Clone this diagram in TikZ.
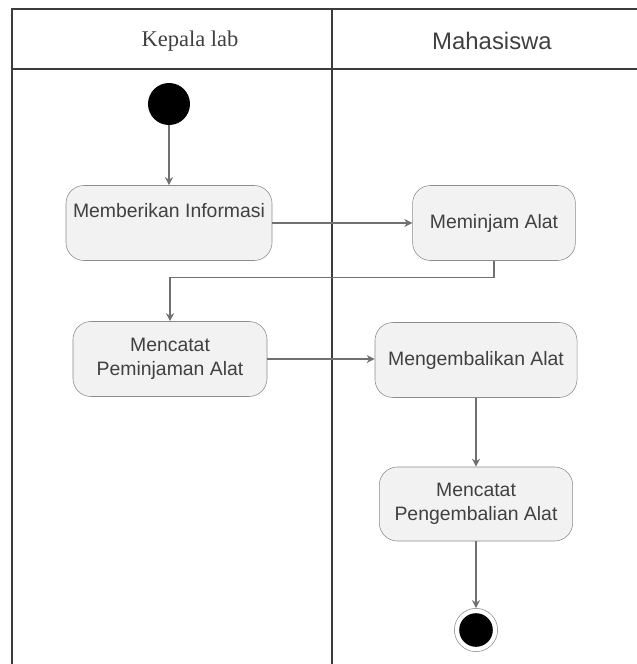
\documentclass[tikz,border=0pt]{standalone}
\usepackage{fontspec}
\setmainfont{Liberation Sans}
\newfontfamily\headserif{Liberation Serif}
\usepackage{tikz}
\usetikzlibrary{arrows.meta}
\usepackage{xcolor}
\definecolor{lanecol}{HTML}{3C3C3C}
\definecolor{flowcol}{HTML}{707070}
\definecolor{boxfill}{HTML}{F2F2F2}
\definecolor{boxline}{HTML}{8C8C8C}
\definecolor{textcol}{HTML}{404040}

\begin{document}
\begin{tikzpicture}[x=0.025cm,y=-0.025cm]
\tikzset{>={Stealth[width=2mm,length=2mm]}}
\tikzstyle{activity} =[rectangle, rounded corners=0.45cm, draw=boxline, fill=boxfill, text=textcol, align=center, font=\fontsize{13.8}{17.5}\selectfont, minimum height=1.875cm, inner sep=2pt]
\tikzstyle{flow} =[->, draw=flowcol, line width=0.8pt]
\tikzstyle{lane} =[draw=lanecol, line width=1pt]

\useasboundingbox (0,0) rectangle (637,664);

% swimlanes
\draw[lane] (637,9) -- (12,9) -- (12,664);
\draw[lane] (12,69) -- (637,69);
\draw[lane] (332,9) -- (332,664);
\node[text=textcol,font=\headserif\fontsize{16}{18}\selectfont](kepala) at (190,41){Kepala lab};
\node[text=textcol,font=\fontsize{17}{19}\selectfont](mhs) at (492,41){Mahasiswa};

% activities
\node[circle, fill=black, inner sep=0pt, minimum size=1.05cm](start) at (169,104){};
\node[activity, minimum width=5.15cm, text depth=18pt](info) at (169,223){Memberikan Informasi};
\node[activity, minimum width=4.07cm](pinjam) at (494,223){Meminjam Alat};
\node[activity, minimum width=4.85cm](catatpinjam) at (170,359){Mencatat\\Peminjaman Alat};
\node[activity, minimum width=5.05cm](kembali) at (476,360){Mengembalikan Alat};
\node[activity, minimum width=4.83cm, minimum height=1.85cm](catatkembali) at (476,504){Mencatat\\Pengembalian Alat};
\node[circle, draw=boxline, fill=white, inner sep=0pt, minimum size=1.08cm,
      path picture={\fill[black] (path picture bounding box.center) circle (0.42cm);}](stop) at (476,630){};

\draw[flow] (start) -- (info);
\draw[flow] (info) -- (pinjam);
\draw[flow] (pinjam.south) -- ++(0,17) -| (catatpinjam.north);
\draw[flow] (catatpinjam.east) -- (catatpinjam.east -| kembali.west);
\draw[flow] (kembali) -- (catatkembali);
\draw[flow] (catatkembali) -- (stop);
\end{tikzpicture}
\end{document}
